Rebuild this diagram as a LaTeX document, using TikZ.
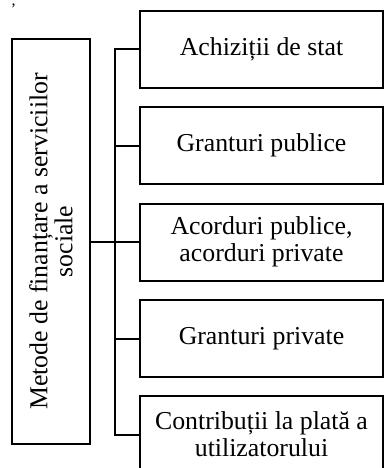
\documentclass[tikz,border=0pt]{standalone}
\usepackage{fontspec}
\setmainfont{Liberation Serif}
\begin{document}
\begin{tikzpicture}[x=1pt,y=-1pt,
  conn/.style={line width=2pt},
  rbox/.style={draw,line width=2pt,minimum width=243pt,minimum height=77pt,
    inner sep=0pt,align=center,font=\fontsize{25.8}{27}\selectfont},
  lbox/.style={draw,line width=2pt,rotate=90,minimum width=405pt,minimum height=78pt,
    inner sep=0pt,align=center,font=\fontsize{25.8}{25}\selectfont}]
\useasboundingbox (0,0) rectangle (385,468);
\clip (0,0) rectangle (385,468);
\node[font=\fontsize{16}{16}\selectfont,inner sep=0pt] (comma) at (13.5,6) {,};
\node[lbox] (L) at (51,241.5) {Metode de finanțare a serviciilor\\sociale};
\node[rbox] (b1) at (261.5,49.5) {Achiziții de stat};
\node[rbox] (b2) at (261.5,145.5) {Granturi publice};
\node[rbox] (b3) at (261.5,242) {Acorduri publice,\\acorduri private};
\node[rbox] (b4) at (261.5,338.5) {Granturi private};
\node[rbox] (b5) at (261.5,434.5) {Contribuții la plată a\\utilizatorului};
\coordinate (sp) at (115,0);
\draw[conn] (b1.west) -- (b1.west -| sp) -- (b5.west -| sp) -- (b5.west);
\draw[conn] (b2.west) -- (b2.west -| sp);
\draw[conn] (b4.west) -- (b4.west -| sp);
% L.south is the right-hand side of the rotated box
\draw[conn] (L.south |- b3.west) -- (b3.west);
\end{tikzpicture}
\end{document}
